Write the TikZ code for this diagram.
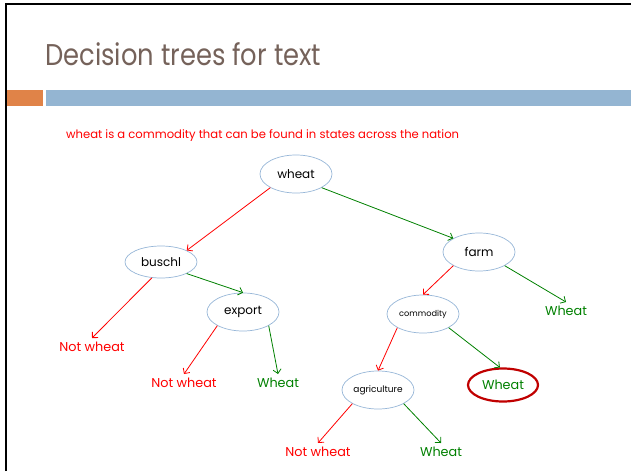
\documentclass[tikz,border=0pt]{standalone}
\usepackage{fontspec}
\setmainfont{Poppins}
\newfontfamily\titlefont{Poppins}[FakeStretch=0.86]
\usetikzlibrary{
    shapes.geometric, % ellipse nodes
    arrows.meta,      % open arrow tips
    positioning
}
\definecolor{titlebrown}{RGB}{117,98,90}
\definecolor{barorange}{RGB}{224,131,72}
\definecolor{barblue}{RGB}{148,181,210}
\definecolor{nodeblue}{RGB}{150,182,215}
\definecolor{nored}{RGB}{255,0,0}
\definecolor{yesgreen}{RGB}{0,128,0}
\definecolor{ringred}{RGB}{192,0,0}

\begin{document}
\begin{tikzpicture}[
    x=1pt, y=-1pt,
    % Define styles
    decision/.style={ellipse, draw=nodeblue, line width=0.7pt, minimum width=72pt, minimum height=38pt, inner sep=0pt, font=\fontsize{12}{12}\selectfont}, % Test on a word
    smalldecision/.style={decision, font=\fontsize{9}{10}\selectfont}, % Longer words
    notleaf/.style={text=nored, font=\fontsize{12.8}{13}\selectfont, inner sep=4pt}, % Not wheat leaf
    yesleaf/.style={text=yesgreen, font=\fontsize{12.8}{13}\selectfont, inner sep=4pt}, % Wheat leaf
    ring/.style={ellipse, draw=ringred, line width=2.2pt, minimum width=70pt, minimum height=33pt, inner sep=0pt}, % Highlighted leaf
    noarrow/.style={draw=nored, line width=0.8pt, -{Straight Barb[length=4pt,width=8pt]}}, % Red branch
    yesarrow/.style={draw=yesgreen, line width=0.8pt, -{Straight Barb[length=4pt,width=8pt]}} % Green branch
]
\useasboundingbox (0,0) rectangle (631,471);

% ----- SLIDE FRAME -----
\draw [line width=2.3pt] (6.2,471) -- (6.2,3.8) -- (631,3.8);
\fill [barorange] (7,90) rectangle (43,105.5);
\fill [barblue] (46,90) rectangle (631,105.5);
\node (title) [anchor=base west, inner sep=0pt, text=titlebrown, font=\titlefont\fontsize{30}{30}\selectfont] at (45,65.5) {Decision trees for text};
\node (sentence) [anchor=base west, inner sep=0pt, text=nored, font=\fontsize{11.6}{12}\selectfont] at (66,138) {wheat is a commodity that can be found in states across the nation};

% ----- TREE NODES -----
\node (wheat)  [decision] at (296,174) {wheat};
\node (buschl) [decision, minimum height=32pt] at (161,262) {buschl};
\node (export) [decision] at (243,312) {export};
\node (farm)   [decision] at (479,252) {farm};
\node (commodity)   [smalldecision, font=\fontsize{8.2}{9}\selectfont] at (423,314) {commodity};
\node (agriculture) [smalldecision] at (378,390) {agriculture};

% ----- LEAVES -----
\node (buschl_no)  [notleaf] at (92,347) {Not wheat};
\node (export_no)  [notleaf] at (184,383) {Not wheat};
\node (export_yes) [yesleaf] at (278,383) {Wheat};
\node (farm_yes)   [yesleaf] at (566,311) {Wheat};
\node (commodity_yes) [yesleaf, ring] at (503,385) {Wheat};
\node (agri_no)    [notleaf] at (318,452) {Not wheat};
\node (agri_yes)   [yesleaf] at (441,452) {Wheat};

% Draw branches
\draw [noarrow]  (wheat.south west) -- (buschl.north east);
\draw [yesarrow] (wheat.south east) -- (farm.north west);
\draw [noarrow]  (buschl.240) -- (buschl_no.north);
\draw [yesarrow] (buschl.south east) -- (export.north);
\draw [noarrow]  (export.south west) -- (export_no.north);
\draw [yesarrow] (export.south east) -- (export_yes.north);
\draw [noarrow]  (farm.south west) -- (commodity.north);
\draw [yesarrow] (farm.south east) -- (farm_yes.north);
\draw [noarrow]  (commodity.south west) -- (agriculture.north);
\draw [yesarrow] (commodity.south east) -- (commodity_yes.100);
\draw [noarrow]  (agriculture.south west) -- (agri_no.north);
\draw [yesarrow] (agriculture.south east) -- (agri_yes.north);

\end{tikzpicture}
\end{document}
